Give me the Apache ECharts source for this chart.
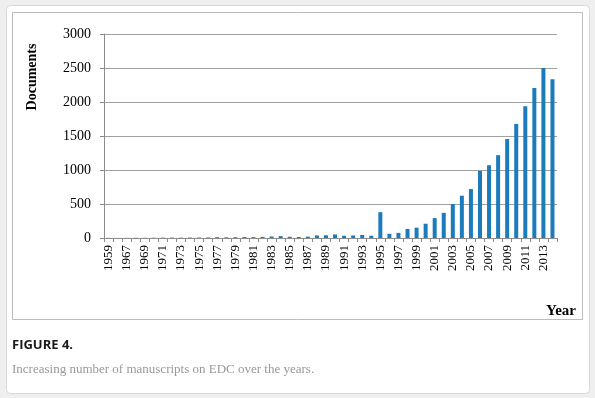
<!DOCTYPE html>
<html><head><meta charset="utf-8">
<script src="https://cdn.jsdelivr.net/npm/echarts@6/dist/echarts.min.js"></script>
<style>html,body{margin:0;padding:0;background:#efefef;}#c{width:595px;height:398px;}</style>
</head><body><div id="c"></div>
<script>
const years = ['1959','1966','1967','1968','1969','1970','1971','1972','1973','1974','1975','1976','1977','1978','1979','1980','1981','1982','1983','1984','1985','1986','1987','1988','1989','1990','1991','1992','1993','1994','1995','1996','1997','1998','1999','2000','2001','2002','2003','2004','2005','2006','2007','2008','2009','2010','2011','2012','2013','2014'];
const documents = [2,1,2,3,3,4,5,6,5,6,7,8,12,10,12,14,12,16,22,28,18,15,20,38,40,52,33,38,45,33,380,62,75,133,152,210,293,370,500,622,720,987,1070,1218,1455,1678,1938,2205,2500,2333];
const yTicks = [0,500,1000,1500,2000,2500,3000];

const serif = '"Liberation Serif","Times New Roman",serif';
const chart = echarts.init(document.getElementById('c'), null, {renderer:'canvas'});
chart.setOption({
  backgroundColor: '#efefef',
  animation: false,
  grid: {left:104, top:34, right:38, bottom:160, containLabel:false},
  graphic: [
    {type:'rect', z:-10, shape:{x:6.5,y:5.5,width:583,height:388,r:4}, style:{fill:'#fff', stroke:'#d8d8d8', lineWidth:1}},
    {type:'rect', z:-9, shape:{x:12.5,y:12.5,width:570,height:307}, style:{fill:'#fff', stroke:'#bcbcbc', lineWidth:1}},
    {type:'text', x:32, y:77, rotation:Math.PI/2, style:{text:'Documents', font:'bold 14px '+serif, fill:'#000', align:'center', verticalAlign:'middle'}},
    {type:'text', x:576, y:311, style:{text:'Year', font:'bold 15px '+serif, fill:'#000', align:'right', verticalAlign:'middle'}},
    {type:'text', x:12, y:345, style:{text:'FIGURE 4.', font:'bold 13px "Open Sans",sans-serif', fill:'#1a1a1a', align:'left', verticalAlign:'middle'}},
    {type:'text', x:12, y:370, style:{text:'Increasing number of manuscripts on EDC over the years.', font:'13px '+serif, fill:'#999', align:'left', verticalAlign:'middle'}}
  ],
  xAxis: {
    type:'category', data: years,
    axisLine:{lineStyle:{color:'#8c8c8c', width:1}},
    axisTick:{show:true, interval:0, length:4, lineStyle:{color:'#8c8c8c'}},
    axisLabel:{interval:1, rotate:90, color:'#000', fontFamily:serif, fontSize:13, margin:7}
  },
  yAxis: {
    type:'value', min:yTicks[0], max:yTicks[yTicks.length-1], interval:500,
    axisLine:{show:true, lineStyle:{color:'#8c8c8c'}},
    axisTick:{show:true, length:4, lineStyle:{color:'#8c8c8c'}},
    axisLabel:{color:'#000', fontFamily:serif, fontSize:14, margin:13, formatter: v => String(v)},
    splitLine:{show:true, lineStyle:{color:'#a0a0a0', width:1}}
  },
  series: [{
    type:'bar', data: documents, barWidth:4,
    itemStyle:{color:'#1b7bbd'}
  }]
});
</script></body></html>
